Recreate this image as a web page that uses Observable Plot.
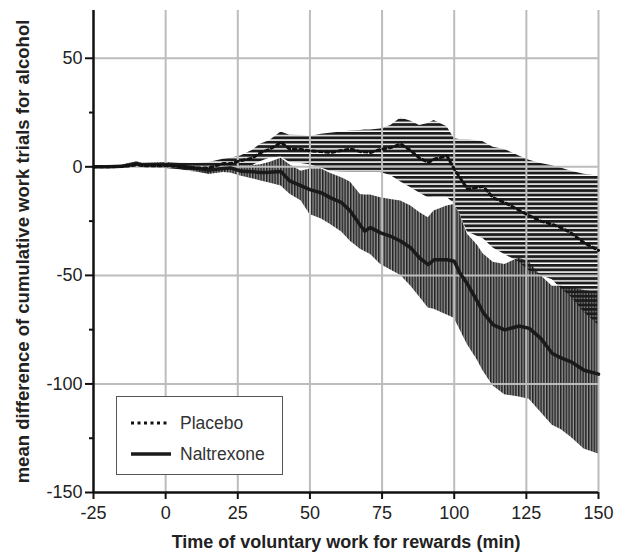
<!DOCTYPE html>
<html>
<head>
<meta charset="utf-8">
<script src="https://cdn.jsdelivr.net/npm/d3@7"></script>
<script src="https://cdn.jsdelivr.net/npm/@observablehq/plot@0.6"></script>
<style>
  body { margin: 0; background: #fff; font-family: "Liberation Sans", Arial, sans-serif; }
  #wrap { position: relative; width: 628px; height: 558px; }
  #legend { position: absolute; left: 116px; top: 396px; width: 165px; height: 77px; border: 1px solid #555; background: #fff; }
</style>
</head>
<body>
<div id="wrap"></div>
<script>
// time (min)
const time = [-25, -20, -15, -12, -10, -8, -5, 0, 5, 10, 15, 20, 22.5, 26, 30, 33, 36, 40, 43, 47, 50, 54, 57, 61, 64, 67.5, 69, 71, 74.5, 78, 81.5, 85, 88, 91, 93, 97.5, 100, 102, 104.6, 108, 110, 113.5, 117.5, 122.5, 126, 130, 134, 137, 140.5, 145, 150];
// Placebo
const placeboMean  = [0, 0, 0.2, 0.5, 1, 0.5, 0.5, 0.5, 0.2, -0.5, -0.5, 1.5, 1.5, 2.8, 4, 6.6, 8, 11.3, 8.2, 8, 7.4, 7, 6.6, 7.5, 8.2, 7, 7, 6.6, 8, 8.9, 10.5, 7.4, 4, 2, 3.5, 5, -1, -5, -10.3, -9.5, -9, -14.2, -16.5, -20, -22.5, -25, -26.5, -28, -30.5, -35, -38.5];
const placeboUpper = [0.3, 0.4, 0.6, 1.2, 1.8, 1.5, 1.6, 1.8, 1.8, 1.5, 2, 3.5, 4, 5, 7.5, 10.5, 12, 16, 14.5, 14.4, 14, 15, 15.5, 16, 16.5, 16.7, 17, 17, 17.4, 19, 22.5, 21, 19, 20, 21.3, 18.5, 13, 12.5, 12.5, 12, 11.5, 9, 8, 5, 3, 1.5, 0.5, -0.5, -2, -3.4, -4.2];
const placeboLower = [-0.3, -0.4, -0.3, -0.2, 0, -0.4, -0.5, -0.8, -1.4, -2.5, -3, -0.5, -1, 0.5, 0.5, 2.5, 4, 4.5, 2, 1.5, 1, -0.5, -2, -2.5, -2.6, -2.6, -2.6, -2.6, -2.6, -4, -7, -9.6, -12, -14.2, -14, -14, -17, -22, -30, -32, -33, -37.4, -40.4, -44, -48, -50, -52, -56, -60, -67, -73];
// Naltrexone
const naltrexoneMean  = [0, 0, 0.3, 1, 1.5, 0.8, 1, 1, 0.3, -0.5, -1.5, -0.8, -0.5, -1.9, -2.3, -2.6, -2.5, -2.2, -6.5, -8.8, -10.5, -12, -14.2, -16.5, -20.4, -27, -29.6, -28, -30.4, -32, -34.3, -37.4, -42, -45, -42.8, -42.8, -43.5, -49, -54, -62, -67, -72.8, -75.1, -73.3, -74.4, -79, -86, -88, -89.8, -93.7, -95.5];
const naltrexoneUpper = [0.3, 0.4, 0.8, 1.8, 2.3, 1.6, 1.8, 2, 1.5, 1, 0.5, 1, 1.5, 0.5, 0.5, 1, 2, 4, 1, -2, -1, -1, -3, -5, -7, -12.7, -13, -13, -14.2, -15, -15.7, -18, -21, -23.5, -20.4, -18, -17.3, -22, -31, -36, -40, -44, -45, -42, -44, -50, -55, -55, -55.5, -57, -58];
const naltrexoneLower = [-0.3, -0.4, -0.2, 0.2, 0.5, 0, 0.2, 0, -1, -2, -3.5, -2.6, -2.8, -4.2, -5.5, -6.5, -7.5, -8.8, -12.5, -15.7, -22, -24, -26.5, -30, -34.3, -38, -39, -40.4, -45, -47.5, -50, -55, -60, -65, -65.6, -68.2, -69.8, -75, -82, -89, -94, -101, -105, -106, -107, -113, -119, -121, -124.5, -130, -132.3];

const xTicks = [-25, 0, 25, 50, 75, 100, 125, 150];
const yTicks = [-150, -100, -50, 0, 50];
const yMinorTicks = [-125, -75, -25, 25];
const xGrid = [0, 25, 50, 75, 100, 125, 150];
const yGrid = [-100, -50, 0, 50];
const seriesNames = ["Placebo", "Naltrexone"];
const xTitle = "Time of voluntary work for rewards (min)";
const yTitle = "mean difference of cumulative work trials for alcohol";

const data = time.map((t, i) => ({
  t,
  pm: placeboMean[i], pu: placeboUpper[i], pl: placeboLower[i],
  nm: naltrexoneMean[i], nu: naltrexoneUpper[i], nl: naltrexoneLower[i]
}));

const font = "Liberation Sans, Arial, sans-serif";
const fmt = (d) => String(d);

const chart = Plot.plot({
  width: 628,
  height: 558,
  marginLeft: 93,
  marginRight: 30,
  marginTop: 10,
  marginBottom: 66,
  x: { domain: [-25, 150] },
  y: { domain: [-150, 72] },
  style: { fontFamily: font, fontSize: "18px", color: "#111", background: "white" },
  marks: [
    Plot.areaY(data, { x: "t", y1: "nl", y2: "nu", fill: "url(#nalPat)" }),
    Plot.areaY(data, { x: "t", y1: "pl", y2: "pu", fill: "url(#plaPat)" }),
    Plot.ruleX(xGrid, { stroke: "#bcbcbc", strokeWidth: 2 }),
    Plot.ruleY(yGrid, { stroke: "#bcbcbc", strokeWidth: 2 }),
    Plot.line(data, { x: "t", y: "nm", stroke: "#1a1a1a", strokeWidth: 3.5 }),
    Plot.line(data, { x: "t", y: "pm", stroke: "#111", strokeWidth: 3, strokeDasharray: "3,3.5" }),
    Plot.axisX(xTicks, { tickSize: 7, tickPadding: 7, strokeWidth: 2, stroke: "#111", label: null, fontSize: 18, fill: "#222", tickFormat: fmt }),
    Plot.axisY(yTicks, { tickSize: 8, tickPadding: 3, strokeWidth: 2, stroke: "#111", label: null, fontSize: 18, fill: "#222", tickFormat: fmt }),
    Plot.axisY(yMinorTicks, { tickSize: 4, strokeWidth: 2, stroke: "#111", label: null, tickFormat: () => "" }),
    Plot.ruleX([-25], { stroke: "#111", strokeWidth: 2.5 }),
    Plot.ruleY([-150], { stroke: "#111", strokeWidth: 2.5 }),
    Plot.text([xTitle], { frameAnchor: "bottom", dy: 55, textAnchor: "middle", fontWeight: "bold", fontSize: 18, fill: "#222" }),
    Plot.text([yTitle], { frameAnchor: "left", dx: -70, rotate: -90, textAnchor: "middle", fontWeight: "bold", fontSize: 18.5, fill: "#222" })
  ]
});

// hatch patterns for the confidence bands
const ns = "http://www.w3.org/2000/svg";
const defs = document.createElementNS(ns, "defs");
defs.innerHTML = `
  <pattern id="nalPat" patternUnits="userSpaceOnUse" width="2.8" height="10">
    <rect x="0" y="0" width="2.8" height="10" fill="#959595"/>
    <rect x="0" y="0" width="1.5" height="10" fill="#222"/>
  </pattern>
  <pattern id="plaPat" patternUnits="userSpaceOnUse" width="10" height="4.4">
    <rect x="0" y="0" width="10" height="2.9" fill="#1c1c1c"/>
  </pattern>`;
chart.insertBefore(defs, chart.firstChild);

const wrap = document.getElementById("wrap");
wrap.appendChild(chart);

// legend
const legend = document.createElement("div");
legend.id = "legend";
legend.innerHTML = `
<svg width="165" height="77" style="font-family:${font}">
  <line x1="14" x2="52" y1="26" y2="26" stroke="#111" stroke-width="3" stroke-dasharray="3,3.5"/>
  <text x="63" y="26" dy="0.35em" font-size="17.5" fill="#333">${seriesNames[0]}</text>
  <line x1="14" x2="54" y1="57" y2="57" stroke="#1a1a1a" stroke-width="3.5"/>
  <text x="63" y="57" dy="0.35em" font-size="17.5" fill="#333">${seriesNames[1]}</text>
</svg>`;
wrap.appendChild(legend);
</script>
</body>
</html>
